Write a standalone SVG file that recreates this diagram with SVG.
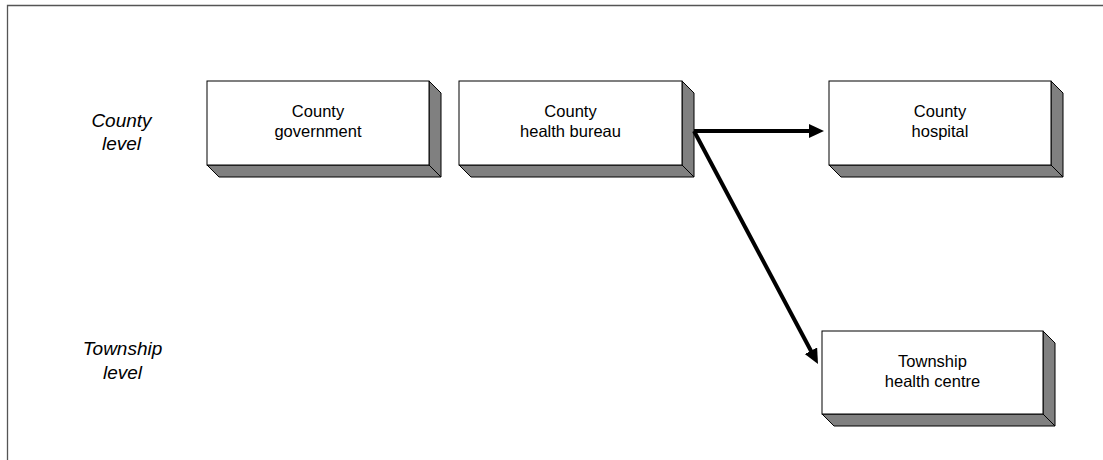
<svg xmlns="http://www.w3.org/2000/svg" width="1103" height="460" viewBox="0 0 1103 460">
<style>
.front{fill:#ffffff;stroke:#000;stroke-width:1}
.side{fill:#808080;stroke:#000;stroke-width:1;stroke-linejoin:miter}
.nt{font-family:"Liberation Sans",Arial,sans-serif;font-size:16.5px;fill:#000;text-anchor:middle}
.lv{font-family:"Liberation Sans",Arial,sans-serif;font-size:19px;font-style:italic;fill:#000;text-anchor:middle}
.conn{stroke:#000;stroke-width:4;fill:none}
</style>
<defs>
<marker id="ah" markerUnits="userSpaceOnUse" markerWidth="16" markerHeight="15" refX="5" refY="7" orient="auto">
<path d="M0,0 L15,7 L0,14 z" fill="#000"/>
</marker>
</defs>
<rect width="1103" height="460" fill="#fff"/>
<g id="frame" fill="none" stroke="#555" stroke-width="1.3">
<path d="M7.5,460 L7.5,5.5 L1103,5.5"/>
</g>
<g id="labels">
<text class="lv" x="121.5" y="127">County</text>
<text class="lv" x="121.5" y="150">level</text>
<text class="lv" x="122.5" y="355">Township</text>
<text class="lv" x="122.5" y="379">level</text>
</g>
<g id="county-government">
<polygon class="side" points="207,165 219,177 441,177 429,165"/>
<polygon class="side" points="429,81 441,93 441,177 429,165"/>
<rect class="front" x="207" y="81" width="222" height="84"/>
<text class="nt" x="318" y="117">County</text>
<text class="nt" x="318" y="136.5">government</text>
</g>
<g id="county-health-bureau">
<polygon class="side" points="459,165 471,177 694,177 682,165"/>
<polygon class="side" points="682,81 694,93 694,177 682,165"/>
<rect class="front" x="459" y="81" width="223" height="84"/>
<text class="nt" x="570.5" y="117">County</text>
<text class="nt" x="570.5" y="136.5">health bureau</text>
</g>
<g id="county-hospital">
<polygon class="side" points="829,165 841,177 1063,177 1051,165"/>
<polygon class="side" points="1051,81 1063,93 1063,177 1051,165"/>
<rect class="front" x="829" y="81" width="222" height="84"/>
<text class="nt" x="940" y="117">County</text>
<text class="nt" x="940" y="136.5">hospital</text>
</g>
<g id="township-health-centre">
<polygon class="side" points="822,414 834,426 1055,426 1043,414"/>
<polygon class="side" points="1043,331 1055,343 1055,426 1043,414"/>
<rect class="front" x="822" y="331" width="221" height="83"/>
<text class="nt" x="932.5" y="367">Township</text>
<text class="nt" x="932.5" y="386.5">health centre</text>
</g>
<g id="connectors">
<path class="conn" d="M694,131 L814,131" marker-end="url(#ah)"/>
<path class="conn" d="M694,131 L813.3,355.2" marker-end="url(#ah)"/>
</g>
</svg>
